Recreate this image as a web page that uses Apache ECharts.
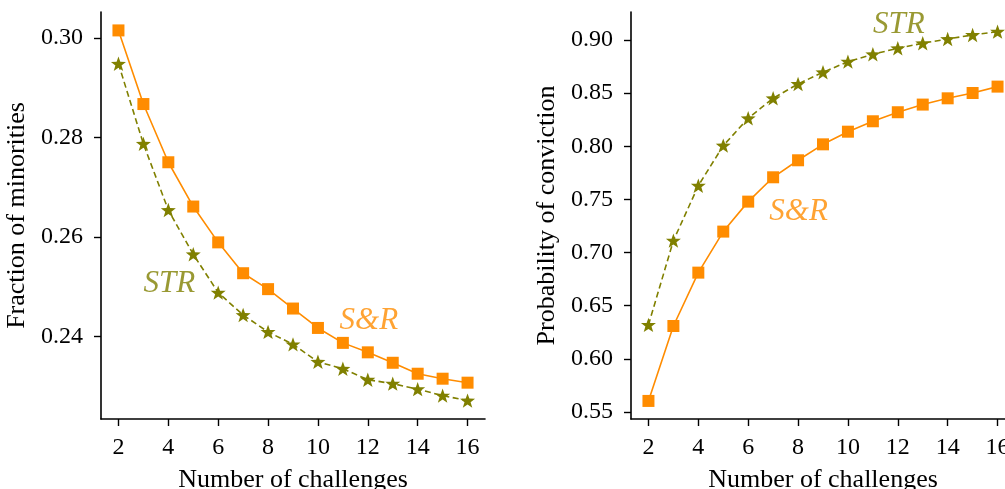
<!DOCTYPE html>
<html>
<head>
<meta charset="utf-8">
<script src="https://cdn.jsdelivr.net/npm/echarts@6/dist/echarts.min.js"></script>
<style>
  html, body { margin: 0; padding: 0; background: #fff; }
  #chart { width: 1005px; height: 489px; }
</style>
</head>
<body>
<div id="chart"></div>
<script>
const challenges = [2, 3, 4, 5, 6, 7, 8, 9, 10, 11, 12, 13, 14, 15, 16];

// left panel: fraction of minorities
const minoritiesSR = [0.3015, 0.2867, 0.2750, 0.2661, 0.2589, 0.2527, 0.2495, 0.2456,
  0.2417, 0.2387, 0.2368, 0.2347, 0.2325, 0.2315, 0.2307];
const minoritiesSTR = [0.2948, 0.2787, 0.2654, 0.2565, 0.2488, 0.2443, 0.2409, 0.2384,
  0.2349, 0.2335, 0.2313, 0.2305, 0.2294, 0.2281, 0.2271];

// right panel: probability of conviction
const convictionSR = [0.5604, 0.6309, 0.6811, 0.7197, 0.7479, 0.7708, 0.7868, 0.8018,
  0.8137, 0.8235, 0.8320, 0.8392, 0.8451, 0.8501, 0.8561];
const convictionSTR = [0.6319, 0.7112, 0.7629, 0.8006, 0.8263, 0.8451, 0.8586, 0.8696,
  0.8796, 0.8865, 0.8922, 0.8969, 0.9009, 0.9047, 0.9078];

const xTicks = [2, 4, 6, 8, 10, 12, 14, 16];
const minoritiesTicks = [0.24, 0.26, 0.28, 0.30];
const convictionTicks = [0.55, 0.60, 0.65, 0.70, 0.75, 0.80, 0.85, 0.90];

// where the series names are written, in data coordinates
const minoritiesNotes = [['STR', 4.04, 0.2505], ['S&R', 12.04, 0.2432]];
const convictionNotes = [['STR', 12.04, 0.9141], ['S&R', 8.02, 0.7382]];

const ORANGE = '#ff8c00';
const OLIVE = '#808000';
const FONT = '"Liberation Serif", "DejaVu Serif", serif';
const STAR = 'path://M50,0 L62,34 L99,35 L70,58 L81,94 L50,73 L19,94 L30,58 L1,35 L38,34 Z';

const pair = (xs, ys) => xs.map((x, i) => [x, ys[i]]);

const xAxisFor = gridIndex => ({
  type: 'value',
  gridIndex,
  min: 1.3,
  max: 16.7,
  name: 'Number of challenges',
  nameLocation: 'middle',
  nameGap: 48,
  nameTextStyle: { fontFamily: FONT, fontSize: 26, color: '#000' },
  splitLine: { show: false },
  axisLine: { lineStyle: { color: '#000', width: 1.6 } },
  axisTick: { customValues: xTicks, length: 7, lineStyle: { color: '#000', width: 1.4 } },
  axisLabel: { customValues: xTicks, margin: 17, fontFamily: FONT, fontSize: 24, color: '#000' }
});

const yAxisFor = (gridIndex, min, max, ticks, name) => ({
  type: 'value',
  gridIndex,
  min,
  max,
  name,
  nameLocation: 'middle',
  nameGap: 71,
  nameTextStyle: { fontFamily: FONT, fontSize: 26, color: '#000' },
  splitLine: { show: false },
  axisLine: { show: true, lineStyle: { color: '#000', width: 1.6 } },
  axisTick: { show: true, customValues: ticks, length: 7, lineStyle: { color: '#000', width: 1.4 } },
  axisLabel: {
    customValues: ticks, margin: 18, fontFamily: FONT, fontSize: 24, color: '#000',
    formatter: v => v.toFixed(2)
  }
});

const lineFor = (idx, ys, color, symbol, dashed) => ({
  type: 'line',
  xAxisIndex: idx,
  yAxisIndex: idx,
  data: pair(challenges, ys),
  symbol,
  symbolSize: symbol === 'rect' ? 12 : 15,
  symbolKeepAspect: true,
  showSymbol: true,
  lineStyle: { color, width: 1.6, type: dashed ? [6, 3.5] : 'solid' },
  itemStyle: { color },
  z: dashed ? 2 : 3
});

const noteSeries = (idx, notes) => ({
  type: 'scatter',
  xAxisIndex: idx,
  yAxisIndex: idx,
  symbolSize: 0,
  silent: true,
  data: notes.map(([name, x, y]) => ({
    name,
    value: [x, y],
    label: { color: name === 'STR' ? OLIVE : ORANGE }
  })),
  label: {
    show: true,
    position: 'inside',
    formatter: p => p.name,
    fontFamily: FONT,
    fontStyle: 'italic',
    fontSize: 31
  }
});

const myChart = echarts.init(document.querySelector('#chart'), null, { renderer: 'canvas' });

// the right panel runs past the edge of the figure, as in the original
const option = {
  animation: false,
  grid: [
    { left: 101, top: 12, width: 384, height: 407, outerBoundsMode: 'none', containLabel: false },
    { left: 631, top: 12, width: 384, height: 407, outerBoundsMode: 'none', containLabel: false }
  ],
  xAxis: [xAxisFor(0), xAxisFor(1)],
  yAxis: [
    yAxisFor(0, 0.2234, 0.3052, minoritiesTicks, 'Fraction of minorities'),
    yAxisFor(1, 0.5434, 0.9263, convictionTicks, 'Probability of conviction')
  ],
  series: [
    lineFor(0, minoritiesSTR, OLIVE, STAR, true),
    lineFor(0, minoritiesSR, ORANGE, 'rect', false),
    lineFor(1, convictionSTR, OLIVE, STAR, true),
    lineFor(1, convictionSR, ORANGE, 'rect', false),
    noteSeries(0, minoritiesNotes),
    noteSeries(1, convictionNotes)
  ]
};

myChart.setOption(option);
</script>
</body>
</html>
